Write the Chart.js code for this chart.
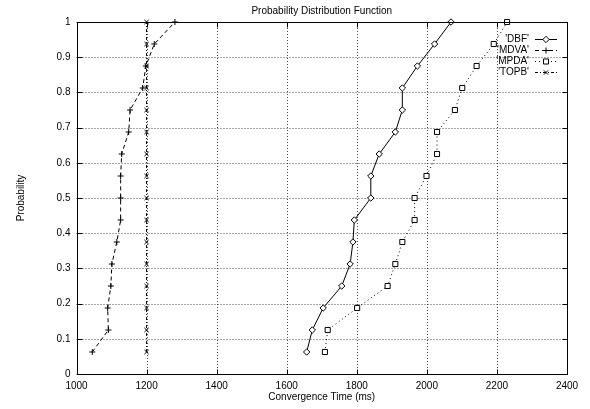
<!DOCTYPE html>
<html>
<head>
<meta charset="utf-8">
<script src="https://cdn.jsdelivr.net/npm/chart.js@4/dist/chart.umd.min.js"></script>
<style>
  html, body { margin: 0; padding: 0; background: #fff; }
  #wrap { width: 590px; height: 409px; }
</style>
</head>
<body>
<div id="wrap"><canvas id="pdf" width="590" height="409"></canvas></div>
<script>
/* ---- data ---- */
const probabilities = [0.0625, 0.125, 0.1875, 0.25, 0.3125, 0.375, 0.4375, 0.5,
                       0.5625, 0.625, 0.6875, 0.75, 0.8125, 0.875, 0.9375, 1];
const dbfTimes  = [1657, 1673, 1704, 1757, 1781, 1789, 1793, 1840,
                   1840, 1864, 1910, 1930, 1930, 1973, 2022, 2069];
const mdvaTimes = [1045, 1091, 1089, 1098, 1101, 1115, 1126, 1126,
                   1126, 1129, 1149, 1153, 1189, 1198, 1222, 1281];
const mpdaTimes = [1709, 1717, 1801, 1888, 1910, 1930, 1965, 1965,
                   1999, 2029, 2029, 2080, 2101, 2142, 2191, 2229];
const topbTimes = [1200, 1200, 1200, 1200, 1200, 1200, 1200, 1200,
                   1200, 1200, 1200, 1200, 1200, 1200, 1200, 1200];
const seriesNames = ["'DBF'", "'MDVA'", "'MPDA'", "'TOPB'"];

const FONT = "'Liberation Sans', Arial, sans-serif";

function toPoints(times) {
    return times.map((t, i) => ({ x: t, y: probabilities[i] }));
}

const styles = [
    { dash: [],           point: "rectRot",  radius: 3.2 },
    { dash: [4, 3],       point: "cross",    radius: 3 },
    { dash: [1, 3],       point: "rect",     radius: 3.6 },
    { dash: [3, 2, 1, 2], point: "crossRot", radius: 3 }
];

const datasets = [dbfTimes, mdvaTimes, mpdaTimes, topbTimes].map((times, i) => ({
    label: seriesNames[i],
    data: toPoints(times),
    showLine: true,
    borderColor: "#000",
    borderWidth: 1,
    borderDash: styles[i].dash,
    pointStyle: styles[i].point,
    pointRadius: styles[i].radius,
    pointBorderColor: "#000",
    pointBorderWidth: 1,
    pointBackgroundColor: "#fff",
    clip: false
}));

/* ---- dotted grid (under the data) ---- */
const gridPlugin = {
    id: "dottedGrid",
    beforeDatasetsDraw(chart) {
        const ctx = chart.ctx;
        const a = chart.chartArea;
        const xs = chart.scales.x, ys = chart.scales.y;
        ctx.save();
        ctx.strokeStyle = "rgba(0,0,0,0.7)";
        ctx.lineWidth = 1;
        ctx.setLineDash([1, 2]);
        ctx.beginPath();
        xs.ticks.forEach(t => {
            const px = Math.round(xs.getPixelForValue(t.value)) + 0.5;
            ctx.moveTo(px, a.top); ctx.lineTo(px, a.bottom);
        });
        ys.ticks.forEach(t => {
            const py = Math.round(ys.getPixelForValue(t.value)) + 0.5;
            ctx.moveTo(a.left, py); ctx.lineTo(a.right, py);
        });
        ctx.stroke();
        ctx.restore();
    }
};

/* ---- gnuplot-ish frame, inward ticks, title and key ---- */
const framePlugin = {
    id: "frame",
    afterDraw(chart) {
        const ctx = chart.ctx;
        const a = chart.chartArea;
        const xs = chart.scales.x, ys = chart.scales.y;
        ctx.save();
        ctx.strokeStyle = "#000";
        ctx.lineWidth = 1;
        ctx.setLineDash([]);
        const l = Math.round(a.left) + 0.5, r = Math.round(a.right) + 0.5;
        const t0 = Math.round(a.top) + 0.5, b = Math.round(a.bottom) + 0.5;
        ctx.strokeRect(l, t0, r - l, b - t0);

        ctx.beginPath();
        xs.ticks.forEach(t => {
            const px = Math.round(xs.getPixelForValue(t.value)) + 0.5;
            ctx.moveTo(px, b); ctx.lineTo(px, b - 5);
            ctx.moveTo(px, t0); ctx.lineTo(px, t0 + 5);
        });
        ys.ticks.forEach(t => {
            const py = Math.round(ys.getPixelForValue(t.value)) + 0.5;
            ctx.moveTo(l, py); ctx.lineTo(l + 5, py);
            ctx.moveTo(r, py); ctx.lineTo(r - 5, py);
        });
        ctx.stroke();

        // title
        ctx.fillStyle = "#000";
        ctx.font = "10px " + FONT;
        ctx.textAlign = "center";
        ctx.textBaseline = "middle";
        ctx.fillText("Probability Distribution Function", (a.left + a.right) / 2, 11);

        // key
        const keyRight = 529, lineX0 = 535, lineX1 = 557;
        chart.data.datasets.forEach((ds, i) => {
            const y = 39.5 + i * 11;
            ctx.fillStyle = "#000";
            ctx.textAlign = "right";
            ctx.fillText(ds.label, keyRight, y);
            ctx.beginPath();
            ctx.setLineDash(ds.borderDash);
            ctx.moveTo(lineX0, y); ctx.lineTo(lineX1, y);
            ctx.stroke();
            ctx.setLineDash([]);
            ctx.fillStyle = "#fff";
            Chart.helpers.drawPoint(ctx, {
                pointStyle: ds.pointStyle,
                radius: ds.pointRadius,
                borderWidth: 1
            }, (lineX0 + lineX1) / 2, y);
        });
        ctx.restore();
    }
};

new Chart(document.getElementById("pdf"), {
    type: "scatter",
    data: { datasets },
    options: {
        responsive: false,
        animation: false,
        events: [],
        layout: { padding: { top: 22, right: 23, left: 0, bottom: 0 } },
        plugins: {
            legend: { display: false },
            tooltip: { enabled: false }
        },
        scales: {
            x: {
                type: "linear",
                min: 1000, max: 2400,
                afterFit(s) { s.height = 35; },
                ticks: { stepSize: 200, color: "#000", padding: 6, maxRotation: 0,
                         font: { family: FONT, size: 10 },
                         callback: v => String(v) },
                grid: { display: false, drawTicks: false, tickLength: 0 },
                border: { display: false },
                title: { display: true, text: "Convergence Time (ms)", color: "#000",
                         font: { family: FONT, size: 10 }, padding: { top: 0, bottom: 6 } }
            },
            y: {
                min: 0, max: 1,
                afterFit(s) { s.width = 76.5; },
                ticks: { stepSize: 0.1, color: "#000", padding: 6,
                         font: { family: FONT, size: 10 },
                         callback: v => String(Math.round(v * 10) / 10) },
                grid: { display: false, drawTicks: false, tickLength: 0 },
                border: { display: false },
                title: { display: true, text: "Probability", color: "#000",
                         font: { family: FONT, size: 10 }, padding: { top: 15, bottom: 0 } }
            }
        }
    },
    plugins: [gridPlugin, framePlugin]
});
</script>
</body>
</html>
